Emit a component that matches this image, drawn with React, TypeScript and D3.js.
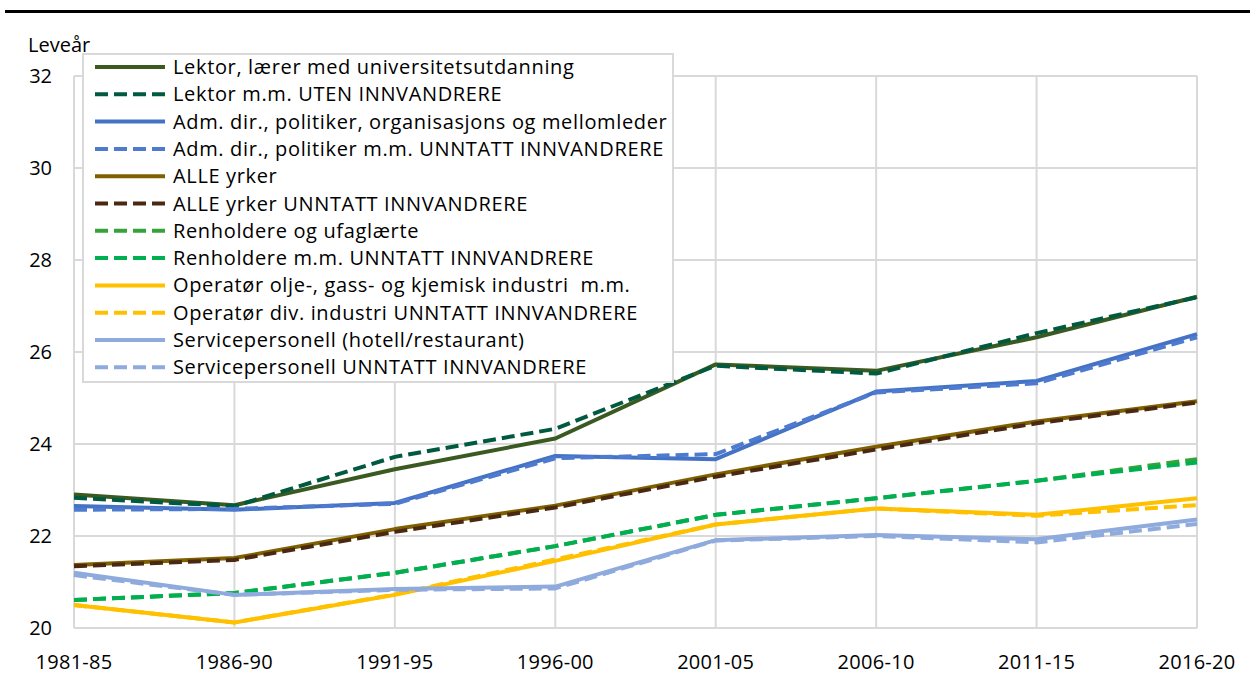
import React, { useEffect, useRef } from "react";
import * as d3 from "d3";

const categories = ["1981-85", "1986-90", "1991-95", "1996-00", "2001-05", "2006-10", "2011-15", "2016-20"];
const yTicks = [20, 22, 24, 26, 28, 30, 32];

const lektor = [22.9, 22.67, 23.45, 24.12, 25.73, 25.59, 26.32, 27.2];
const lektorUten = [22.83, 22.65, 23.72, 24.33, 25.7, 25.53, 26.41, 27.19];
const adm = [22.65, 22.57, 22.72, 23.74, 23.67, 25.14, 25.37, 26.39];
const admUnntatt = [22.57, 22.59, 22.7, 23.69, 23.78, 25.12, 25.32, 26.32];
const alle = [21.37, 21.52, 22.15, 22.66, 23.34, 23.94, 24.49, 24.93];
const alleUnntatt = [21.34, 21.48, 22.09, 22.62, 23.29, 23.88, 24.45, 24.9];
const renholdere = [20.61, 20.76, 21.2, 21.78, 22.46, 22.82, 23.2, 23.67];
const renholdereUnntatt = [20.61, 20.76, 21.2, 21.78, 22.46, 22.82, 23.2, 23.6];
const operator = [20.5, 20.12, 20.72, 21.46, 22.25, 22.6, 22.46, 22.82];
const operatorUnntatt = [20.5, 20.12, 20.73, 21.49, 22.25, 22.6, 22.44, 22.67];
const service = [21.2, 20.72, 20.85, 20.9, 21.91, 22.02, 21.93, 22.36];
const serviceUnntatt = [21.15, 20.72, 20.83, 20.86, 21.9, 22.0, 21.86, 22.26];

const seriesNames = [
  "Lektor, lærer med universitetsutdanning",
  "Lektor m.m. UTEN INNVANDRERE",
  "Adm. dir., politiker, organisasjons og mellomleder",
  "Adm. dir., politiker m.m. UNNTATT INNVANDRERE",
  "ALLE yrker",
  "ALLE yrker UNNTATT INNVANDRERE",
  "Renholdere og ufaglærte",
  "Renholdere m.m. UNNTATT INNVANDRERE",
  "Operatør olje-, gass- og kjemisk industri  m.m.",
  "Operatør div. industri UNNTATT INNVANDRERE",
  "Servicepersonell (hotell/restaurant)",
  "Servicepersonell UNNTATT INNVANDRERE",
];
const seriesValues = [
  lektor, lektorUten, adm, admUnntatt, alle, alleUnntatt,
  renholdere, renholdereUnntatt, operator, operatorUnntatt, service, serviceUnntatt,
];
const seriesColors = [
  "#3a5a22", "#005a40", "#4472c4", "#4e7bcf", "#7f6000", "#4a2812",
  "#35a33a", "#00b050", "#ffc000", "#ffc000", "#8faadc", "#8faadc",
];
const seriesDashed = [false, true, false, true, false, true, true, true, false, true, false, true];

const FONT = "'Open Sans', 'Noto Sans', sans-serif";

export default function App() {
  const ref = useRef<SVGSVGElement>(null);

  useEffect(() => {
    const svg = d3.select(ref.current);
    svg.selectAll("*").remove();

    const left = 74, right = 1197, top = 76, bottom = 628;
    const x = d3.scalePoint<string>().domain(categories).range([left, right]);
    const y = d3.scaleLinear().domain([20, 32]).range([bottom, top]);

    svg.append("line").attr("x1", 5).attr("x2", 1250).attr("y1", 11.5).attr("y2", 11.5)
      .attr("stroke", "#000").attr("stroke-width", 3);

    const grid = svg.append("g");
    yTicks.forEach((t) => {
      grid.append("line").attr("x1", left).attr("x2", right).attr("y1", y(t)).attr("y2", y(t))
        .attr("stroke", "#d9d9d9").attr("stroke-width", 2);
    });
    categories.forEach((c) => {
      grid.append("line").attr("x1", x(c)!).attr("x2", x(c)!).attr("y1", top).attr("y2", bottom)
        .attr("stroke", "#d9d9d9").attr("stroke-width", 2);
    });

    svg.append("g").selectAll("text").data(yTicks).join("text")
      .attr("x", 52).attr("y", (d) => y(d)).attr("dy", "0.35em").attr("text-anchor", "end")
      .attr("font-family", FONT).attr("font-size", 20).attr("fill", "#000").text((d) => String(d));

    svg.append("text").attr("x", 28).attr("y", 52).attr("font-family", FONT).attr("font-size", 20)
      .attr("fill", "#000").text("Leveår");

    svg.append("g").selectAll("text").data(categories).join("text")
      .attr("x", (d) => x(d)!).attr("y", 662).attr("dy", "0.35em").attr("text-anchor", "middle")
      .attr("font-family", FONT).attr("font-size", 20).attr("letter-spacing", 0.3)
      .attr("fill", "#000").text((d) => d);

    const line = d3.line<number>().x((_, i) => x(categories[i])!).y((d) => y(d));
    seriesValues.forEach((vals, i) => {
      svg.append("path").attr("d", line(vals)!).attr("fill", "none")
        .attr("stroke", seriesColors[i]).attr("stroke-width", 4)
        .attr("stroke-linejoin", "round")
        .attr("stroke-dasharray", seriesDashed[i] ? "13,6" : null);
    });

    const lg = svg.append("g");
    lg.append("rect").attr("x", 83).attr("y", 54).attr("width", 590).attr("height", 328)
      .attr("fill", "#fff").attr("stroke", "#d9d9d9").attr("stroke-width", 2);
    seriesNames.forEach((name, i) => {
      const cy = 67 + i * 27.3;
      lg.append("line").attr("x1", 95).attr("x2", 165).attr("y1", cy).attr("y2", cy)
        .attr("stroke", seriesColors[i]).attr("stroke-width", 4)
        .attr("stroke-dasharray", seriesDashed[i] ? "13,6" : null);
      lg.append("text").attr("x", 173).attr("y", cy).attr("dy", "0.35em")
        .attr("font-family", FONT).attr("font-size", 20).attr("letter-spacing", 0.65)
        .attr("fill", "#000").style("white-space", "pre").text(name);
    });
  }, []);

  return (
    <div style={{ position: "absolute", left: 0, top: 0 }}>
      <svg ref={ref} width={1250} height={675} style={{ display: "block", background: "#fff" }} />
    </div>
  );
}
